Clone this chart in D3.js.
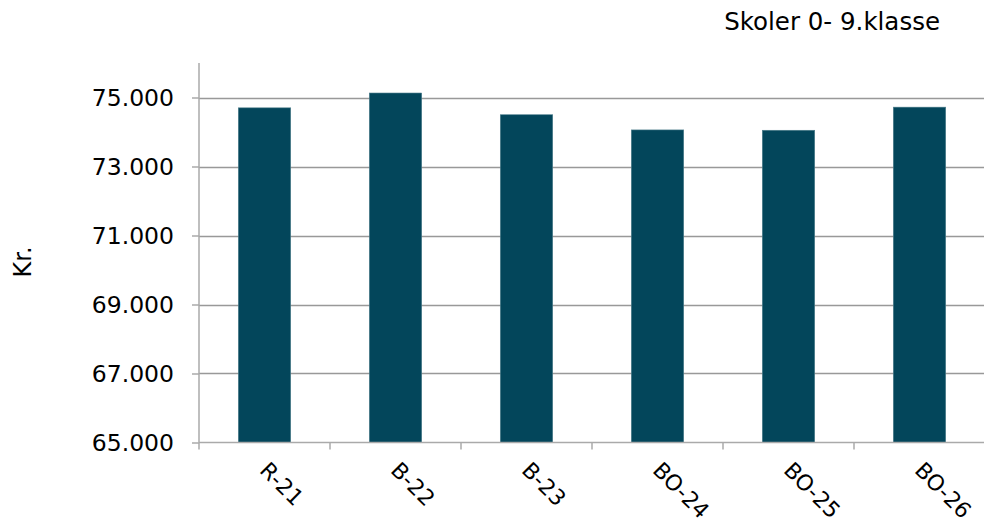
<!DOCTYPE html>
<html><head><meta charset="utf-8">
<script src="https://cdn.jsdelivr.net/npm/d3@7"></script>
<style>body{margin:0;background:#fff}svg{display:block}text{font-family:"DejaVu Sans",Verdana,sans-serif;fill:#000}</style>
</head><body>
<svg id="c" width="984" height="521"></svg>
<script>
const categories = ["R-21","B-22","B-23","BO-24","BO-25","BO-26"];
const values = [74700, 75130, 74500, 74060, 74050, 74720];
const yTicks = [65000, 67000, 69000, 71000, 73000, 75000];
const title = "Skoler 0- 9.klasse";
const yLabel = "Kr.";

const svg = d3.select("#c");
const pL = 199, pR = 985, pT = 63, pB = 442.5;
const x = d3.scaleBand().domain(categories).range([pL, pR]).paddingInner(0.6).paddingOuter(0.3);
const y = d3.scaleLinear().domain([65000, 76000]).range([pB, pT]);
const fmt = v => d3.format(",")(v).replace(/,/g, ".");

// gridlines
svg.append("g").selectAll("line").data(yTicks.slice(1)).join("line")
  .attr("x1", pL).attr("x2", pR)
  .attr("y1", d => Math.round(y(d)) + 0.5).attr("y2", d => Math.round(y(d)) + 0.5)
  .attr("stroke", "#999").attr("stroke-width", 1.3);

// bars
svg.append("g").selectAll("rect").data(values).join("rect")
  .attr("x", (d, i) => x(categories[i]))
  .attr("width", x.bandwidth())
  .attr("y", d => y(d))
  .attr("height", d => y(65000) - y(d))
  .attr("fill", "#03465b").attr("stroke", "#4d7d8c").attr("stroke-width", 0.6);

// y axis
const yAxis = d3.axisLeft(y).tickValues(yTicks).tickSize(7).tickPadding(18).tickFormat(fmt);
const gy = svg.append("g").attr("transform", `translate(${pL},0)`).call(yAxis);
gy.select(".domain").attr("stroke", "#aaa").attr("stroke-width", 1.5).attr("d", `M0,${pT}V${pB}`);
gy.selectAll(".tick line").attr("stroke", "#aaa").attr("stroke-width", 1.5);
gy.selectAll(".tick text").attr("font-size", 23.5).attr("font-family", "DejaVu Sans").attr("fill", "#000").attr("dy", "0.36em");

// x axis
const bounds = categories.map((c, i) => pL + i * (pR - pL) / categories.length).concat([pR]);
const gx = svg.append("g");
gx.append("line").attr("x1", pL).attr("x2", pR).attr("y1", pB).attr("y2", pB).attr("stroke", "#aaa").attr("stroke-width", 1.5);
gx.selectAll("line.t").data(bounds).join("line").attr("class", "t")
  .attr("x1", d => d).attr("x2", d => d).attr("y1", pB).attr("y2", pB + 7)
  .attr("stroke", "#aaa").attr("stroke-width", 1.5);
gx.selectAll("text").data(categories).join("text")
  .attr("transform", d => `translate(${x(d) + x.bandwidth() / 2 - 6},${pB + 29}) rotate(45)`)
  .attr("font-size", 22)
  .text(d => d);

// title
svg.append("text").attr("x", 940).attr("y", 29.5).attr("text-anchor", "end").attr("font-size", 24.5).text(title);
// y label
svg.append("text").attr("transform", "translate(31,262) rotate(-90)").attr("text-anchor", "middle").attr("font-size", 24).text(yLabel);
</script>
</body></html>
